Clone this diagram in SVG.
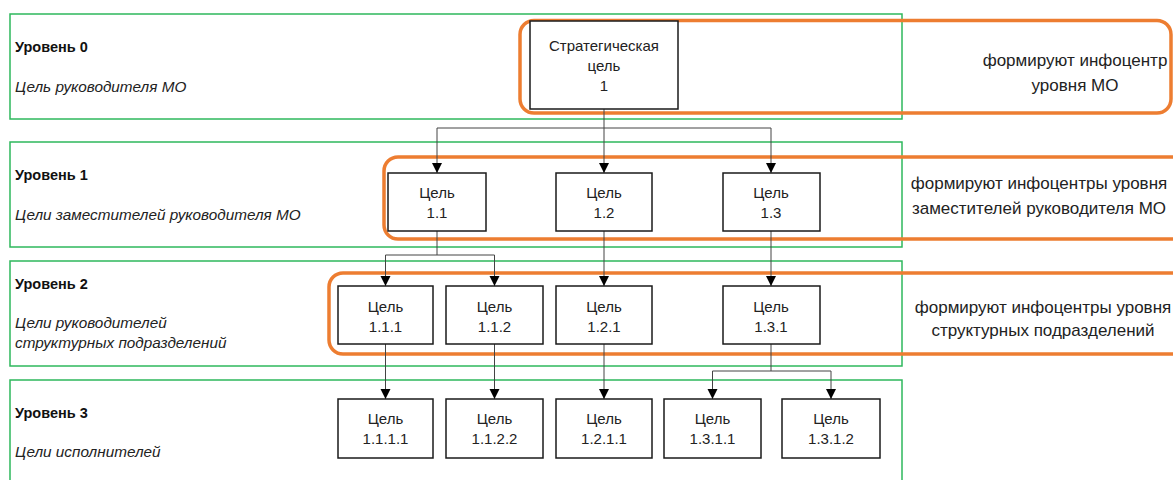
<svg xmlns="http://www.w3.org/2000/svg" width="1173" height="480" viewBox="0 0 1173 480">
<style>
.lvl{fill:none;stroke:#2eb85c;stroke-width:1.5}
.grp{fill:none;stroke:#ed7d31;stroke-width:3.5}
.box{fill:#fff;stroke:#1a1a1a;stroke-width:1.5}
.t{font-family:"Liberation Sans",Arial,sans-serif;font-size:15px;fill:#222;text-anchor:middle}
.h{font-family:"Liberation Sans",Arial,sans-serif;font-size:14.5px;font-weight:bold;fill:#111}
.i{font-family:"Liberation Sans",Arial,sans-serif;font-size:15.3px;font-style:italic;fill:#222}
.r{font-family:"Liberation Sans",Arial,sans-serif;font-size:17px;fill:#222;text-anchor:middle}
.c{fill:none;stroke:#444;stroke-width:1}
</style>
<defs>
<marker id="arr" viewBox="0 0 10 10" refX="10" refY="5" markerWidth="10" markerHeight="11" markerUnits="userSpaceOnUse" orient="auto">
<path d="M0,0 L10,5 L0,10 Z" fill="#000"/>
</marker>
</defs>
<g id="levels">
<rect class="lvl" x="10" y="14" width="892" height="105"/>
<rect class="lvl" x="10" y="142" width="892" height="105"/>
<rect class="lvl" x="10" y="261" width="892" height="105"/>
<rect class="lvl" x="10" y="380" width="892" height="110"/>
<text class="h" x="15" y="52">Уровень 0</text>
<text class="i" x="15" y="92">Цель руководителя МО</text>
<text class="h" x="15" y="180">Уровень 1</text>
<text class="i" x="15" y="220">Цели заместителей руководителя МО</text>
<text class="h" x="15" y="289">Уровень 2</text>
<text class="i" x="15" y="328">Цели руководителей</text>
<text class="i" x="15" y="348">структурных подразделений</text>
<text class="h" x="15" y="418">Уровень 3</text>
<text class="i" x="15" y="457">Цели исполнителей</text>
</g>
<g id="groups">
<rect class="grp" x="520" y="20.5" width="651" height="92.5" rx="14"/>
<rect class="grp" x="384" y="157" width="820" height="82" rx="14"/>
<rect class="grp" x="329" y="273" width="880" height="81" rx="14"/>
<text class="r" x="1075" y="66">формируют инфоцентр</text>
<text class="r" x="1075" y="91">уровня МО</text>
<text class="r" x="1039" y="189">формируют инфоцентры уровня</text>
<text class="r" x="1039" y="214">заместителей руководителя МО</text>
<text class="r" x="1043" y="313">формируют инфоцентры уровня</text>
<text class="r" x="1043" y="336">структурных подразделений</text>
</g>
<g id="connectors">
<path class="c" d="M604,109 V128 M437,128 H771"/>
<path class="c" d="M437,128 V173" marker-end="url(#arr)"/>
<path class="c" d="M604,128 V173" marker-end="url(#arr)"/>
<path class="c" d="M771,128 V173" marker-end="url(#arr)"/>
<path class="c" d="M437,231 V255 M385.5,255 H494.5"/>
<path class="c" d="M385.5,255 V286" marker-end="url(#arr)"/>
<path class="c" d="M494.5,255 V286" marker-end="url(#arr)"/>
<path class="c" d="M604,231 V286" marker-end="url(#arr)"/>
<path class="c" d="M771,231 V286" marker-end="url(#arr)"/>
<path class="c" d="M385.5,344 V399" marker-end="url(#arr)"/>
<path class="c" d="M494.5,344 V399" marker-end="url(#arr)"/>
<path class="c" d="M604,344 V399" marker-end="url(#arr)"/>
<path class="c" d="M771,344 V371 M712.5,371 H831"/>
<path class="c" d="M712.5,371 V399" marker-end="url(#arr)"/>
<path class="c" d="M831,371 V399" marker-end="url(#arr)"/>
</g>
<g id="n1"><rect class="box" x="530" y="21" width="148" height="88"/><text class="t" x="604" y="51">Стратегическая</text><text class="t" x="604" y="71">цель</text><text class="t" x="604" y="91">1</text></g>
<g id="n11"><rect class="box" x="388" y="173" width="98" height="58"/><text class="t" x="437" y="198">Цель</text><text class="t" x="437" y="218">1.1</text></g>
<g id="n12"><rect class="box" x="556" y="173" width="96" height="58"/><text class="t" x="604" y="198">Цель</text><text class="t" x="604" y="218">1.2</text></g>
<g id="n13"><rect class="box" x="723" y="173" width="97" height="58"/><text class="t" x="771" y="198">Цель</text><text class="t" x="771" y="218">1.3</text></g>
<g id="n111"><rect class="box" x="338" y="286" width="95" height="58"/><text class="t" x="385.5" y="312">Цель</text><text class="t" x="385.5" y="332">1.1.1</text></g>
<g id="n112"><rect class="box" x="446" y="286" width="97" height="58"/><text class="t" x="494.5" y="312">Цель</text><text class="t" x="494.5" y="332">1.1.2</text></g>
<g id="n121"><rect class="box" x="556" y="286" width="96" height="58"/><text class="t" x="604" y="312">Цель</text><text class="t" x="604" y="332">1.2.1</text></g>
<g id="n131"><rect class="box" x="723" y="286" width="97" height="58"/><text class="t" x="771" y="312">Цель</text><text class="t" x="771" y="332">1.3.1</text></g>
<g id="n1111"><rect class="box" x="338" y="399" width="95" height="59"/><text class="t" x="385.5" y="424">Цель</text><text class="t" x="385.5" y="444">1.1.1.1</text></g>
<g id="n1122"><rect class="box" x="446" y="399" width="97" height="59"/><text class="t" x="494.5" y="424">Цель</text><text class="t" x="494.5" y="444">1.1.2.2</text></g>
<g id="n1211"><rect class="box" x="556" y="399" width="96" height="59"/><text class="t" x="604" y="424">Цель</text><text class="t" x="604" y="444">1.2.1.1</text></g>
<g id="n1311"><rect class="box" x="664" y="399" width="97" height="59"/><text class="t" x="712.5" y="424">Цель</text><text class="t" x="712.5" y="444">1.3.1.1</text></g>
<g id="n1312"><rect class="box" x="782" y="399" width="98" height="59"/><text class="t" x="831" y="424">Цель</text><text class="t" x="831" y="444">1.3.1.2</text></g>
</svg>
